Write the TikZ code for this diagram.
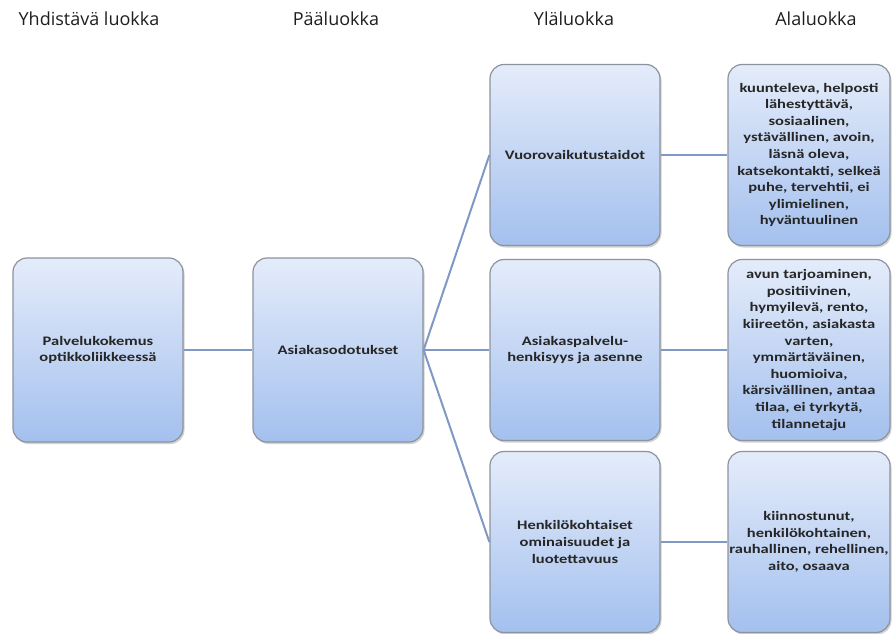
\documentclass[tikz,border=0pt]{standalone}
\usepackage{fontspec}
\setmainfont{Carlito}
\newfontfamily\headfont{Open Sans}
\newfontfamily\boxfont[FakeStretch=1.27]{Carlito}
\usetikzlibrary{shadows}

\definecolor{boxtop}{RGB}{228,236,250}
\definecolor{boxbottom}{RGB}{164,192,238}
\definecolor{boxline}{RGB}{140,147,158}
\definecolor{linkline}{RGB}{128,152,196}
\definecolor{headtext}{RGB}{30,30,30}

\begin{document}
\begin{tikzpicture}[x=1pt, y=-1pt,
    catbox/.style={draw=boxline, line width=1.2pt, rounded corners=14pt,
        top color=boxtop, bottom color=boxbottom, align=center,
        inner xsep=0pt, inner ysep=0pt,
        font=\boxfont\bfseries\fontsize{13}{16.6}\selectfont, text=black!85,
        drop shadow={shadow xshift=1.5pt, shadow yshift=-2pt, opacity=0.3, fill=black!60}},
    mainbox/.style={catbox, minimum width=170pt, minimum height=184pt},
    upperbox/.style={catbox, minimum width=170pt, minimum height=181pt},
    lowerbox/.style={catbox, minimum width=162pt, minimum height=181pt},
    header/.style={anchor=base, font=\headfont\fontsize{18}{21}\selectfont, text=headtext},
    link/.style={draw=linkline, line width=2pt}]

    \useasboundingbox (0,0) rectangle (894,634);

    % Column headers
    \node[header] (h1) at (89,26) {Yhdistävä luokka};
    \node[header] (h2) at (336,26) {Pääluokka};
    \node[header] (h3) at (574,26) {Yläluokka};
    \node[header] (h4) at (816,26) {Alaluokka};

    % Combining and main category
    \node[mainbox] (pal) at (98,350) {Palvelukokemus\\optikkoliikkeessä};
    \node[mainbox] (ask) at (338,350) {Asiakasodotukset};

    % Upper categories
    \node[upperbox] (vuo) at (575,155) {Vuorovaikutustaidot};
    \node[upperbox] (hen) at (575,350) {Asiakaspalvelu-\\henkisyys ja asenne};
    \node[upperbox] (omi) at (575,542) {Henkilökohtaiset\\ominaisuudet ja\\luotettavuus};

    % Sub categories
    \node[lowerbox] (ala1) at (809,155) {kuunteleva, helposti\\lähestyttävä,\\sosiaalinen,\\ystävällinen, avoin,\\läsnä oleva,\\katsekontakti, selkeä\\puhe, tervehtii, ei\\ylimielinen,\\hyväntuulinen};
    \node[lowerbox] (ala2) at (809,350) {avun tarjoaminen,\\positiivinen,\\hymyilevä, rento,\\kiireetön, asiakasta\\varten,\\ymmärtäväinen,\\huomioiva,\\kärsivällinen, antaa\\tilaa, ei tyrkytä,\\tilannetaju};
    \node[lowerbox] (ala3) at (809,542) {kiinnostunut,\\henkilökohtainen,\\rauhallinen, rehellinen,\\aito, osaava};

    % Connectors
    \draw[link] (pal.east) -- (ask.west);
    \draw[link] (ask.east) -- (vuo.west);
    \draw[link] (ask.east) -- (hen.west);
    \draw[link] (ask.east) -- (omi.west);
    \draw[link] (vuo.east) -- (ala1.west);
    \draw[link] (hen.east) -- (ala2.west);
    \draw[link] (omi.east) -- (ala3.west);
\end{tikzpicture}
\end{document}
